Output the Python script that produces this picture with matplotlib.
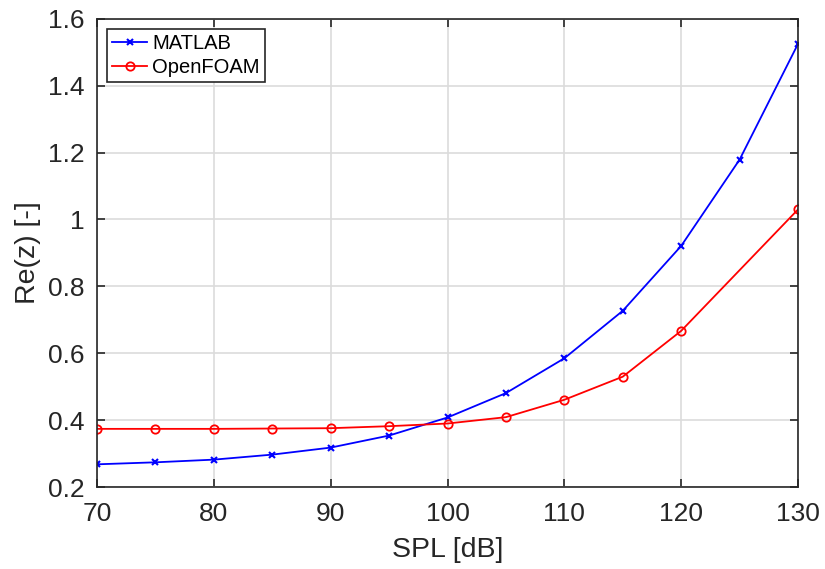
import numpy as np
import matplotlib.pyplot as plt

plt.rcParams['font.family'] = ['Liberation Sans', 'DejaVu Sans']

# sound pressure level sweep
spl_matlab = [70, 75, 80, 85, 90, 95, 100, 105, 110, 115, 120, 125, 130]
re_matlab = [0.268, 0.274, 0.282, 0.297, 0.318, 0.354, 0.408, 0.481, 0.585, 0.727, 0.921, 1.179, 1.525]

spl_foam = [70, 75, 80, 85, 90, 95, 100, 105, 110, 115, 120, 130]
re_foam = [0.374, 0.374, 0.374, 0.375, 0.376, 0.382, 0.390, 0.409, 0.461, 0.530, 0.667, 1.030]

fig = plt.figure(figsize=(8.25, 5.69), dpi=100)
ax = fig.add_axes([0.1176, 0.144, 0.8497, 0.823])

ax.plot(spl_matlab, re_matlab, '-x', color='#0000ff', lw=1.3, ms=5, mew=1.5, label='MATLAB')
ax.plot(spl_foam, re_foam, '-o', color='#ff0000', lw=1.3, ms=6, mew=1.3,
        mfc='none', label='OpenFOAM')

ax.set_xlim(70, 130)
ax.set_ylim(0.2, 1.6)
ax.set_xticks(np.arange(70, 131, 10))
ax.set_yticks([0.2, 0.4, 0.6, 0.8, 1.0, 1.2, 1.4, 1.6])
ax.set_yticklabels(['0.2', '0.4', '0.6', '0.8', '1', '1.2', '1.4', '1.6'])
ax.grid(True, color='#dcdcdc', lw=1.2)
ax.set_axisbelow(True)
ax.tick_params(direction='in', length=6, width=1.2, labelsize=19, colors='#262626',
               top=True, right=True)
ax.tick_params(axis='y', pad=9)
ax.tick_params(axis='x', pad=11)
for s in ax.spines.values():
    s.set_color('#262626')
    s.set_linewidth(1.2)

ax.set_xlabel('SPL [dB]', fontsize=20.5, color='#262626', labelpad=8)
ax.set_ylabel('Re(z) [-]', fontsize=20.5, color='#262626', labelpad=5)

leg = ax.legend(loc='upper left', fontsize=14.5, fancybox=False, edgecolor='#262626',
                framealpha=1, borderaxespad=0.5, handlelength=1.75, handletextpad=0.25,
                labelspacing=0.25, borderpad=0.25)
leg.get_frame().set_linewidth(1.2)

fig.savefig('out.png', dpi=100)
